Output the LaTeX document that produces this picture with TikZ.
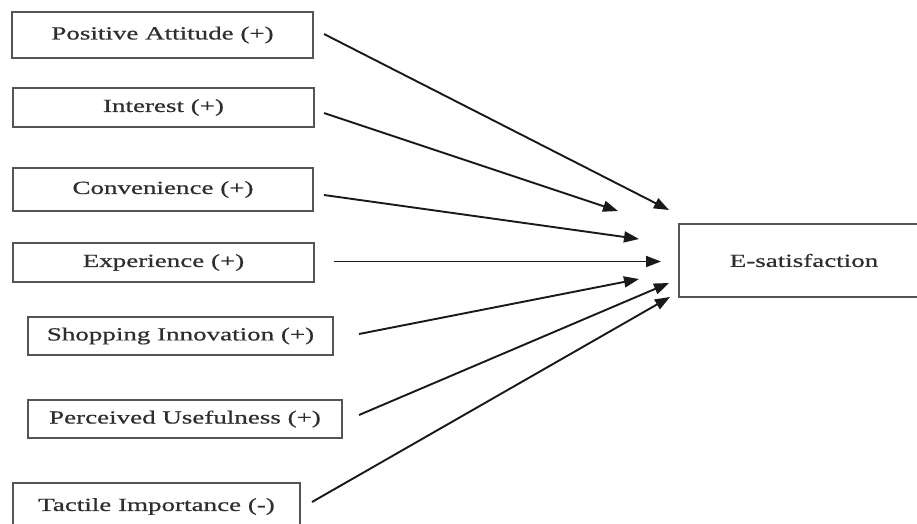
\documentclass[tikz,border=0pt]{standalone}
\usepackage{fontspec}
\setmainfont{Liberation Serif}[FakeStretch=1.46,FakeBold=0.6]
\usetikzlibrary{arrows.meta,calc}
\definecolor{boxline}{HTML}{555555}
\definecolor{txt}{HTML}{2E2E2E}
\begin{document}
\begin{tikzpicture}[x=1pt,y=-1pt,
  factor/.style={draw=boxline,line width=2pt,fill=white,inner sep=0pt,
    text=txt,font=\fontsize{18.5}{22}\selectfont},
  arr/.style={draw=black!90,line width=1.9pt,-{Triangle[length=15pt,width=11pt]}}]
\clip (0,0) rectangle (917,523);
\fill[white] (0,0) rectangle (917,523);

% antecedent factors
\node[factor,minimum width=301,minimum height=46] (b1) at (162.5,35)  {Positive Attitude (+)};
\node[factor,minimum width=301,minimum height=39] (b2) at (163.5,107.5) {Interest (+)};
\node[factor,minimum width=300,minimum height=43] (b3) at (163,189.5) {Convenience (+)};
\node[factor,minimum width=301,minimum height=39] (b4) at (163.5,262.5) {Experience (+)};
\node[factor,minimum width=305,minimum height=38] (b5) at (180.5,336) {Shopping Innovation (+)};
\node[factor,minimum width=314,minimum height=38] (b6) at (185,419) {Perceived Usefulness (+)};
\node[factor,minimum width=287,minimum height=47] (b7) at (156.5,506.5) {Tactile Importance (-)};

% outcome
\node[factor,minimum width=250,minimum height=73] (es) at (804,260.5) {E-satisfaction};

% arrow tips, fanned in front of the outcome box
\coordinate (t1) at (669,210);
\coordinate (t2) at (618,211);
\coordinate (t3) at (639,239);
\coordinate (t4) at (661,261.5);
\coordinate (t5) at (639,279);
\coordinate (t6) at (669,283);
\coordinate (t7) at (670,297);

\draw[arr] ($(b1.east)+(10,-1)$) -- (t1);
\draw[arr] ($(b2.east)+(9,5.5)$) -- (t2);
\draw[arr] ($(b3.east)+(10,5.5)$) -- (t3);
\draw[arr] ($(b4.east)+(19,-1)$) -- (t4);
\draw[arr] ($(b5.east)+(25,-2)$) -- (t5);
\draw[arr] ($(b6.east)+(16,-4)$) -- (t6);
\draw[arr] ($(b7.east)+(11,-4.5)$) -- (t7);
\end{tikzpicture}
\end{document}
